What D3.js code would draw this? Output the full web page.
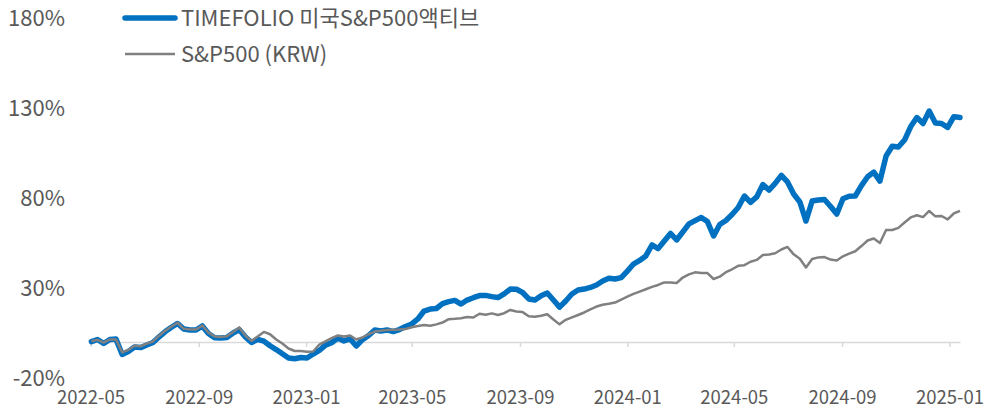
<!DOCTYPE html>
<html>
<head>
<meta charset="utf-8">
<script src="https://cdn.jsdelivr.net/npm/d3@7"></script>
<style>
    body { margin: 0; background: #fff; }
    text { font-family: "Noto Sans CJK KR", "Noto Sans", sans-serif; fill: #595959; }
</style>
</head>
<body>
<div id="chart"></div>
<script>
// series names
var seriesNames = ["TIMEFOLIO 미국S&P500액티브", "S&P500 (KRW)"];

// weekly readings (Mondays) from 2022-05-02 to 2025-01-13, cumulative return in %
var firstWeek = "2022-05-02";
var lastWeek = "2025-01-13";

var activeValues = [
    0.2, 1.4, -0.8, 1.4, 1.6, -6.9, -5.3, -2.8, -3.1, -1.7,
    -0.3, 2.9, 5.8, 8.2, 10.3, 7.2, 6.7, 6.7, 8.9, 4.7,
    2.4, 2.2, 2.5, 5.0, 6.9, 2.8, -0.3, 1.5, 0.5, -2.1,
    -4.2, -6.5, -8.9, -9.3, -8.6, -8.9, -6.7, -4.7, -1.7, -0.4,
    2.2, 0.6, 1.7, -2.2, 1.3, 3.6, 6.7, 6.1, 6.7, 5.8,
    6.9, 8.6, 10.0, 12.8, 17.2, 18.3, 18.6, 21.3, 22.4, 23.1,
    21.1, 23.3, 24.6, 25.8, 25.9, 25.2, 24.7, 26.7, 29.4, 29.3,
    27.5, 23.9, 23.3, 25.7, 27.2, 23.3, 19.4, 22.8, 26.7, 28.9,
    29.4, 30.3, 31.7, 33.9, 35.4, 35.0, 35.8, 39.4, 43.3, 45.3,
    47.8, 53.9, 51.9, 56.1, 60.3, 56.7, 61.1, 65.6, 67.4, 69.2,
    66.9, 58.9, 65.3, 67.5, 70.8, 74.7, 81.1, 77.6, 80.6, 87.5,
    84.4, 88.1, 92.6, 88.9, 82.2, 77.8, 67.2, 78.3, 78.9, 79.2,
    75.3, 71.1, 79.6, 81.0, 81.1, 86.9, 91.8, 94.4, 89.4, 103.3,
    108.7, 108.3, 112.2, 119.7, 124.7, 121.4, 128.3, 121.7, 121.4, 119.2,
    125.2, 124.7
];

var indexValues = [
    0.4, 1.2, -0.3, 1.4, 1.4, -5.8, -4.4, -2.1, -2.4, -0.9,
    0.3, 3.5, 6.2, 8.6, 10.7, 7.3, 6.9, 6.9, 9.2, 5.2,
    3.1, 2.8, 3.2, 5.6, 8.1, 3.5, 0.6, 3.1, 5.6, 4.3,
    1.4, -0.8, -3.6, -5.0, -5.0, -5.4, -5.3, -1.4, 0.3, 2.2,
    3.6, 3.0, 3.6, 1.4, 2.5, 4.3, 5.8, 6.3, 6.7, 6.8,
    6.9, 7.2, 8.2, 8.9, 9.4, 9.0, 9.8, 10.8, 12.7, 12.9,
    13.2, 13.9, 13.6, 15.7, 15.1, 15.9, 15.0, 16.0, 17.8, 16.9,
    16.6, 14.3, 14.0, 14.6, 15.4, 12.5, 9.8, 12.3, 13.7, 15.0,
    16.4, 18.1, 19.7, 20.7, 21.2, 21.9, 23.6, 25.2, 26.7, 28.0,
    29.3, 30.6, 31.7, 33.1, 33.0, 32.8, 35.8, 37.6, 38.7, 38.3,
    38.3, 35.0, 36.3, 38.8, 40.4, 42.3, 42.7, 44.6, 45.6, 48.3,
    48.6, 49.3, 51.4, 52.8, 48.7, 46.3, 41.4, 46.1, 47.0, 47.2,
    45.8, 45.3, 47.6, 49.1, 50.4, 53.3, 56.4, 57.5, 55.0, 62.2,
    62.2, 63.4, 66.4, 69.2, 70.4, 69.4, 72.8, 69.8, 70.0, 68.1,
    71.4, 72.9
];

// axis ticks
var xTickLabels = ["2022-05", "2022-09", "2023-01", "2023-05", "2023-09",
                   "2024-01", "2024-05", "2024-09", "2025-01"];
var yTickValues = [-20, 30, 80, 130, 180];

var width = 995, height = 410;
var parseDay = d3.utcParse("%Y-%m-%d");
var parseMonth = d3.utcParse("%Y-%m");

var weeks = d3.utcMonday.range(parseDay(firstWeek), d3.utcDay.offset(parseDay(lastWeek), 1));

var svg = d3.select("#chart")
    .append("svg")
    .attr("width", width)
    .attr("height", height);

var xScale = d3.scaleUtc()
    .domain([parseDay("2022-05-01"), parseDay(lastWeek)])
    .range([90.5, 960]);

var yScale = d3.scaleLinear()
    .domain([-20, 180])
    .range([378, 18]);

// x axis sits on the 0% line
var xAxis = d3.axisBottom(xScale)
    .tickValues(xTickLabels.map(parseMonth))
    .tickFormat(d3.utcFormat("%Y-%m"))
    .tickSize(5)
    .tickSizeOuter(0)
    .tickPadding(44);

var xg = svg.append("g")
    .attr("transform", "translate(0," + yScale(0) + ")")
    .call(xAxis);
xg.select(".domain").attr("stroke", "#d9d9d9").attr("stroke-width", 1.5);
xg.selectAll(".tick line").attr("stroke", "#d9d9d9").attr("stroke-width", 1.5);
xg.selectAll(".tick text")
    .attr("fill", "#595959")
    .style("font-size", "18.5px");

// y labels only, no axis line
var yAxis = d3.axisLeft(yScale)
    .tickValues(yTickValues)
    .tickFormat(function (d) { return d + "%"; })
    .tickSize(0)
    .tickPadding(0);

var yg = svg.append("g")
    .attr("transform", "translate(65,0)")
    .call(yAxis);
yg.select(".domain").remove();
yg.selectAll(".tick text")
    .attr("fill", "#595959")
    .style("font-size", "22px");

var line = d3.line()
    .x(function (d) { return xScale(d[0]); })
    .y(function (d) { return yScale(d[1]); });

var activeData = weeks.map(function (w, i) { return [w, activeValues[i]]; });
var indexData = weeks.map(function (w, i) { return [w, indexValues[i]]; });

svg.append("path")
    .datum(activeData)
    .attr("d", line)
    .attr("fill", "none")
    .attr("stroke", "#0070c0")
    .attr("stroke-width", 5.5)
    .attr("stroke-linejoin", "round")
    .attr("stroke-linecap", "round");

svg.append("path")
    .datum(indexData)
    .attr("d", line)
    .attr("fill", "none")
    .attr("stroke", "#808080")
    .attr("stroke-width", 2.5)
    .attr("stroke-linejoin", "round");

// legend
var legendColors = ["#0070c0", "#808080"];
var legendWidths = [5.5, 2.5];
var legend = svg.append("g").attr("class", "legend");

legend.selectAll("line")
    .data(seriesNames)
    .enter()
    .append("line")
    .attr("x1", 125)
    .attr("x2", 175)
    .attr("y1", function (d, i) { return 18 + i * 36; })
    .attr("y2", function (d, i) { return 18 + i * 36; })
    .attr("stroke", function (d, i) { return legendColors[i]; })
    .attr("stroke-width", function (d, i) { return legendWidths[i]; })
    .attr("stroke-linecap", function (d, i) { return i === 0 ? "round" : "butt"; });

legend.selectAll("text")
    .data(seriesNames)
    .enter()
    .append("text")
    .attr("x", 181)
    .attr("y", function (d, i) { return 18 + i * 36; })
    .attr("dy", "0.36em")
    .style("font-size", "22px")
    .text(function (d) { return d; });
</script>
</body>
</html>
